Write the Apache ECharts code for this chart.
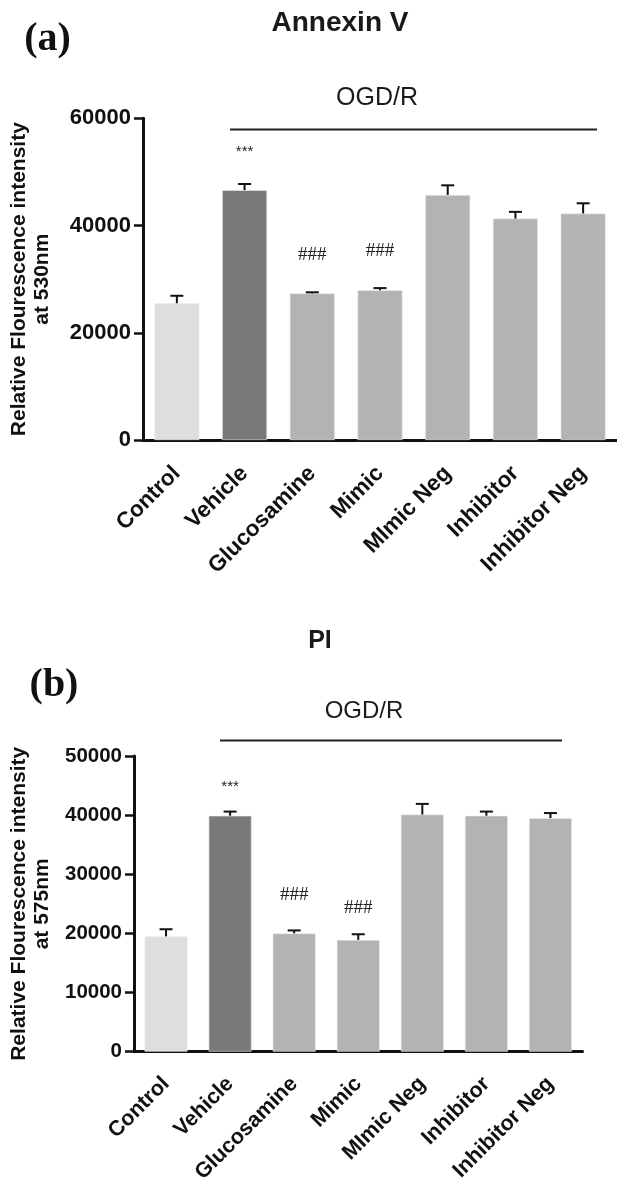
<!DOCTYPE html>
<html><head><meta charset="utf-8">
<script src="https://cdn.jsdelivr.net/npm/echarts@6/dist/echarts.min.js"></script>
<style>html,body{margin:0;padding:0;background:#fff}#c{width:617px;height:1186px}</style>
</head><body><div id="c"></div>
<script>
const categories = ['Control','Vehicle','Glucosamine','Mimic','MImic Neg','Inhibitor','Inhibitor Neg'];
const annexinMean = [25500, 46600, 27350, 27950, 45700, 41300, 42250];
const annexinErr  = [1400, 1150, 200, 380, 1800, 1250, 1900];
const piMean = [19500, 39900, 20000, 18900, 40100, 39900, 39500];
const piErr  = [1200, 700, 500, 950, 1800, 700, 850];
const annexinTicks = {min:0, max:60000, interval:20000};
const piTicks = {min:0, max:50000, interval:10000};
// significance marks: [category, y position value, text]
const annexinSig = [['Vehicle', 53700, '***'], ['Glucosamine', 34500, '###'], ['Mimic', 35300, '###']];
const piSig = [['Vehicle', 44700, '***'], ['Glucosamine', 26550, '###'], ['Mimic', 24350, '###']];
const barColors = ['#dedede', '#797979', '#b3b3b3', '#b3b3b3', '#b3b3b3', '#b3b3b3', '#b3b3b3'];

const FONT = 'Liberation Sans, Arial, sans-serif';
const chart = echarts.init(document.getElementById('c'), null, {renderer:'canvas'});

function errRender(params, api) {
  const v = api.value(1), e = api.value(2);
  const p0 = api.coord([api.value(0), v]);
  const p1 = api.coord([api.value(0), v + e]);
  const hw = 6.5;
  return {type:'group', children:[
    {type:'line', shape:{x1:p0[0], y1:p0[1], x2:p1[0], y2:p1[1]}, style:{stroke:'#111', lineWidth:2}},
    {type:'line', shape:{x1:p1[0]-hw, y1:p1[1], x2:p1[0]+hw, y2:p1[1]}, style:{stroke:'#111', lineWidth:2}}
  ]};
}
function sigRender(params, api) {
  const p = api.coord([api.value(0), api.value(1)]);
  const txt = sigData[params.seriesIndex][params.dataIndex][2];
  const star = txt === '***';
  return {type:'text', x:p[0], y:p[1], style:{text:txt, align:'center', verticalAlign:'middle',
    font: star ? '15px Liberation Sans' : '19px Liberation Serif', fill:'#222'}};
}
const sigData = {};

function makeAxes(gi, ticks, name, labelSize, yLabelSize, nameGap, margin) {
  return {
    x: {type:'category', gridIndex:gi, data:categories,
      axisLine:{lineStyle:{color:'#111', width:3}},
      axisTick:{alignWithLabel:true, length:9, lineStyle:{color:'#111', width:2.5}},
      axisLabel:{rotate:45, margin:margin, fontSize:labelSize, fontWeight:'bold', color:'#111', fontFamily:FONT, interval:0}},
    y: {type:'value', gridIndex:gi, min:ticks.min, max:ticks.max, interval:ticks.interval,
      name:name, nameLocation:'middle', nameGap:nameGap, nameRotate:90,
      nameTextStyle:{fontSize:21, fontWeight:'bold', color:'#111', fontFamily:FONT, lineHeight:23},
      axisLine:{show:true, lineStyle:{color:'#111', width:3}},
      axisTick:{show:true, length:9, lineStyle:{color:'#111', width:2.5}},
      axisLabel:{fontSize:yLabelSize, fontWeight:'bold', color:'#111', fontFamily:FONT, margin:12,
        formatter: v => String(v)},
      splitLine:{show:false}}
  };
}
const a0 = makeAxes(0, annexinTicks, 'Relative Flourescence intensity\nat 530nm', 22.5, 22, 89, 30);
const a1 = makeAxes(1, piTicks, 'Relative Flourescence intensity\nat 575nm', 21.5, 20.5, 80, 29);

const series = [];
[[annexinMean, annexinErr, annexinSig, '33.5%'], [piMean, piErr, piSig, '33%']].forEach((d, gi) => {
  series.push({type:'bar', xAxisIndex:gi, yAxisIndex:gi, barCategoryGap:d[3], animation:false,
    data: d[0].map((v,i)=>({value:v, itemStyle:{color:barColors[i], borderColor:'#ececec', borderWidth:0.6}}))});
  series.push({type:'custom', xAxisIndex:gi, yAxisIndex:gi, renderItem:errRender, z:5, animation:false,
    data: categories.map((c,i)=>[i, d[0][i], d[1][i]])});
  const idx = series.length;
  sigData[idx] = d[2];
  series.push({type:'custom', xAxisIndex:gi, yAxisIndex:gi, renderItem:sigRender, z:6, animation:false, clip:false,
    data: d[2].map(s=>[categories.indexOf(s[0]), s[1]])});
});

chart.setOption({
  animation:false,
  grid:[{left:141.7, top:118.3, width:484.4, height:321.7},
        {left:131, top:756, width:451.5, height:300}],
  xAxis:[a0.x, a1.x], yAxis:[a0.y, a1.y],
  series: series,
  graphic:[
    {type:'text', x:47.5, y:40, style:{text:'(a)', font:'bold 40px Liberation Serif', align:'center', verticalAlign:'middle', fill:'#111'}},
    {type:'text', x:340, y:23, style:{text:'Annexin V', font:'bold 28px Liberation Sans', align:'center', verticalAlign:'middle', fill:'#1a1a1a'}},
    {type:'text', x:377, y:98, style:{text:'OGD/R', font:'25px Liberation Sans', align:'center', verticalAlign:'middle', fill:'#1a1a1a'}},
    {type:'line', shape:{x1:230, y1:129.5, x2:597, y2:129.5}, style:{stroke:'#222', lineWidth:2}},
    {type:'text', x:54, y:686, style:{text:'(b)', font:'bold 40px Liberation Serif', align:'center', verticalAlign:'middle', fill:'#111'}},
    {type:'text', x:320, y:641, style:{text:'PI', font:'bold 25px Liberation Sans', align:'center', verticalAlign:'middle', fill:'#1a1a1a'}},
    {type:'text', x:364, y:711, style:{text:'OGD/R', font:'24px Liberation Sans', align:'center', verticalAlign:'middle', fill:'#1a1a1a'}},
    {type:'line', shape:{x1:220, y1:740.5, x2:562, y2:740.5}, style:{stroke:'#222', lineWidth:2}}
  ]
});
</script></body></html>
